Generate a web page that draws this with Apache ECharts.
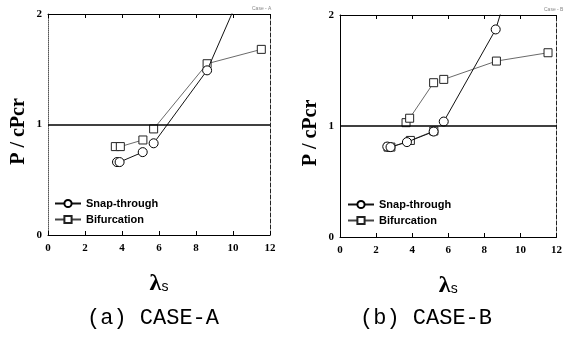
<!DOCTYPE html>
<html>
<head>
<meta charset="utf-8">
<script src="https://cdn.jsdelivr.net/npm/echarts@6/dist/echarts.min.js"></script>
<style>
  html, body { margin: 0; padding: 0; background: #fff; }
  #chart { width: 565px; height: 337px; }
</style>
</head>
<body>
<div id="chart"></div>
<script>
// [lambda_s, P/cPcr] pairs; null breaks the line
const snapA = [[3.73, 0.66], [3.87, 0.66], [5.12, 0.75], null, [5.71, 0.83], [8.6, 1.49], [11.5, 2.6]];
const bifA = [[3.64, 0.80], [3.91, 0.80], [5.13, 0.86], null, [5.71, 0.96], [8.6, 1.55], [11.53, 1.68]];
const snapB = [[2.62, 0.815], [2.8, 0.81], [3.71, 0.855], [5.19, 0.95], null, [5.75, 1.04], [8.63, 1.87], [11.5, 3.4]];
const bifB = [[2.66, 0.81], [2.82, 0.81], [3.9, 0.87], [5.2, 0.955], null, [3.66, 1.03], [3.86, 1.07], [5.19, 1.39], null, [5.75, 1.42], [8.67, 1.585], [11.53, 1.66]];
const xTicks = [0, 2, 4, 6, 8, 10, 12];
const yTicks = [0, 1, 2];
const seriesNames = ["Snap-through", "Bifurcation"];
const panelTitles = ["(a) CASE-A", "(b) CASE-B"];
const cornerNotes = ["Case - A", "Case - B"];

const chart = echarts.init(document.getElementById("chart"));

const toData = (pts) => pts.map((p) => (p ? p : ["-", "-"]));

const grids = [
  { left: 48, right: 295, top: 14, bottom: 102 },
  { left: 340, right: 4, top: 15, bottom: 100 },
];

const tickFont = { fontFamily: "Liberation Serif", fontWeight: "bold", fontSize: 11, color: "#000" };

const xAxes = [];
const yAxes = [];
grids.forEach((g, i) => {
  xAxes.push({
    type: "value",
    gridIndex: i,
    min: xTicks[0],
    max: xTicks[xTicks.length - 1],
    interval: 2,
    name: "{l|λ}{s|s}",
    nameLocation: "middle",
    nameGap: 37,
    nameTextStyle: {
      rich: {
        l: { fontFamily: "Liberation Serif", fontWeight: "bold", fontSize: 24, color: "#000" },
        s: { fontFamily: "Liberation Sans", fontSize: 14, color: "#000", padding: [6, 0, 0, 0] },
      },
    },
    axisLine: { onZero: false, lineStyle: { color: "#000", width: 1 } },
    axisTick: { inside: true, length: 4, lineStyle: { color: "#000" } },
    axisLabel: { margin: 8, ...tickFont },
    splitLine: { show: false },
  });
  xAxes.push({
    type: "value",
    gridIndex: i,
    position: "top",
    min: xTicks[0],
    max: xTicks[xTicks.length - 1],
    interval: 2,
    axisLine: { onZero: false, lineStyle: { color: "#000", width: 1 } },
    axisTick: { inside: true, length: 4, lineStyle: { color: "#000" } },
    axisLabel: { show: false },
    splitLine: { show: false },
  });
  yAxes.push({
    type: "value",
    gridIndex: i,
    min: yTicks[0],
    max: yTicks[yTicks.length - 1],
    interval: 1,
    name: "P / cPcr",
    nameLocation: "middle",
    nameRotate: 90,
    nameGap: 19,
    nameTextStyle: { fontFamily: "Liberation Serif", fontWeight: "bold", fontSize: 20, color: "#000", padding: [0, 14, 0, 0] },
    axisLine: { show: true, onZero: false, lineStyle: { color: i === 0 ? "#555" : "#000", width: 1, type: i === 0 ? "dotted" : "solid" } },
    axisTick: { show: false },
    axisLabel: { margin: 6, ...tickFont },
    splitLine: { show: false },
  });
  yAxes.push({
    type: "value",
    gridIndex: i,
    position: "right",
    min: yTicks[0],
    max: yTicks[yTicks.length - 1],
    interval: 1,
    axisLine: { show: true, onZero: false, lineStyle: { color: "#222", width: 1, type: "dashed" } },
    axisTick: { show: false },
    axisLabel: { show: false },
    splitLine: { show: false },
  });
});

const oneLine = {
  symbol: "none",
  silent: true,
  label: { show: false },
  lineStyle: { color: "#000", width: 1.6, type: "solid" },
  data: [{ yAxis: 1 }],
};

const makeSnap = (pts, i) => ({
  name: seriesNames[0],
  type: "line",
  xAxisIndex: i * 2,
  yAxisIndex: i * 2,
  data: toData(pts),
  symbol: "circle",
  symbolSize: 9,
  z: 4,
  itemStyle: { color: "#fff", borderColor: "#000", borderWidth: 1 },
  lineStyle: { color: "#111", width: 1 },
  markLine: oneLine,
});

const makeBif = (pts, i) => ({
  name: seriesNames[1],
  type: "line",
  xAxisIndex: i * 2,
  yAxisIndex: i * 2,
  data: toData(pts),
  symbol: "rect",
  symbolSize: 8,
  z: 3,
  itemStyle: { color: "#fff", borderColor: "#222", borderWidth: 1 },
  lineStyle: { color: "#444", width: 0.8 },
});

const legendText = { fontFamily: "Liberation Sans", fontWeight: "bold", fontSize: 11, color: "#000" };

const option = {
  animation: false,
  backgroundColor: "#fff",
  grid: grids,
  xAxis: xAxes,
  yAxis: yAxes,
  legend: [
    { left: 54, top: 198, orient: "vertical", itemWidth: 26, itemHeight: 9, itemGap: 5, padding: 0, textStyle: legendText, data: seriesNames },
    { left: 347, top: 199, orient: "vertical", itemWidth: 26, itemHeight: 9, itemGap: 5, padding: 0, textStyle: legendText, data: seriesNames },
  ],
  title: [
    { text: panelTitles[0], left: 87, top: 307, padding: 0, textStyle: { fontFamily: "Liberation Mono", fontWeight: "normal", fontSize: 22, color: "#000" } },
    { text: panelTitles[1], left: 360, top: 307, padding: 0, textStyle: { fontFamily: "Liberation Mono", fontWeight: "normal", fontSize: 22, color: "#000" } },
    { text: cornerNotes[0], left: 252, top: 6, padding: 0, textStyle: { fontFamily: "Liberation Sans", fontWeight: "normal", fontSize: 5, color: "#888" } },
    { text: cornerNotes[1], left: 544, top: 7, padding: 0, textStyle: { fontFamily: "Liberation Sans", fontWeight: "normal", fontSize: 5, color: "#888" } },
  ],
  series: [makeSnap(snapA, 0), makeBif(bifA, 0), makeSnap(snapB, 1), makeBif(bifB, 1)],
};

chart.setOption(option);
</script>
</body>
</html>
